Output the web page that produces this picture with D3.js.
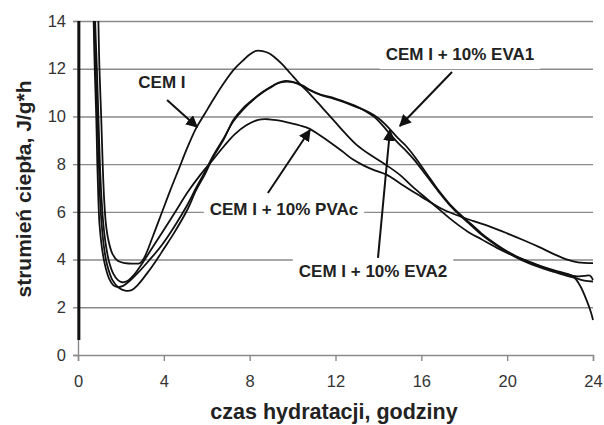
<!DOCTYPE html>
<html><head><meta charset="utf-8">
<script src="https://cdn.jsdelivr.net/npm/d3@7"></script>
<style>
body{margin:0;background:#fff;}
svg{display:block;font-family:"Liberation Sans",Arial,sans-serif;}
</style></head>
<body><svg id="c" width="604" height="425"></svg>
<script>
// ---- data (time in hours, heat flow J/g*h) ----
const xTicks = [0,4,8,12,16,20,24];
const yTicks = [0,2,4,6,8,10,12,14];

const cemI = [[0.93,15.5],[0.95,14],[1.0,12],[1.08,10],[1.15,8],[1.22,6.5],[1.3,5.5],[1.42,4.8],[1.6,4.25],[1.85,3.95],[2.2,3.85],[2.6,3.83],[2.9,3.86],[3.1,4.1],[3.5,5.0],[3.9,5.95],[4.3,6.9],[4.7,7.8],[5.1,8.7],[5.5,9.5],[5.9,10.1],[6.3,10.7],[6.8,11.4],[7.3,12.0],[7.7,12.35],[8.0,12.6],[8.3,12.75],[8.6,12.74],[8.9,12.65],[9.2,12.45],[9.5,12.2],[9.9,11.8],[10.3,11.4],[10.8,10.95],[11.4,10.35],[12.0,9.75],[12.5,9.25],[13.0,8.8],[13.6,8.4],[14.3,8.0],[15.0,7.55],[15.6,7.05],[16.25,6.55],[16.9,6.05],[17.5,5.6],[18.2,5.15],[18.8,4.85],[19.5,4.5],[20.2,4.2],[20.8,3.98],[21.5,3.75],[22.2,3.55],[22.8,3.4],[23.1,3.28],[23.4,2.9],[23.7,2.3],[23.9,1.8],[24.0,1.47]];

const pvac = [[0.78,15.5],[0.8,14],[0.88,12],[0.95,10],[1.02,8],[1.1,6.5],[1.18,5.5],[1.3,4.6],[1.45,3.9],[1.65,3.4],[1.85,3.15],[2.05,3.05],[2.3,3.1],[2.6,3.35],[3.0,3.85],[3.5,4.55],[3.9,5.1],[4.5,5.95],[5.13,6.85],[5.7,7.55],[6.3,8.2],[6.8,8.75],[7.3,9.25],[7.86,9.64],[8.4,9.86],[8.9,9.88],[9.4,9.82],[9.9,9.72],[10.35,9.62],[10.8,9.48],[11.2,9.25],[11.74,8.92],[12.3,8.55],[12.8,8.2],[13.3,7.95],[13.8,7.75],[14.4,7.55],[15.0,7.2],[15.6,6.85],[16.25,6.5],[16.9,6.15],[17.6,5.88],[18.4,5.62],[19.2,5.38],[20.0,5.1],[20.8,4.8],[21.5,4.52],[22.2,4.22],[22.8,4.0],[23.3,3.88],[24.0,3.85]];

const eva1 = [[0.72,15.5],[0.73,14],[0.78,12],[0.85,10],[0.9,8],[0.95,6.5],[1.0,5.5],[1.1,4.6],[1.25,3.8],[1.45,3.2],[1.65,2.92],[1.85,2.85],[2.1,2.9],[2.4,3.1],[2.8,3.45],[3.3,3.95],[3.9,4.6],[4.5,5.4],[5.1,6.3],[5.5,7.0],[5.9,7.65],[6.3,8.35],[6.8,9.1],[7.24,9.8],[7.7,10.3],[8.17,10.7],[8.6,11.0],[8.95,11.2],[9.3,11.38],[9.6,11.45],[9.9,11.45],[10.2,11.38],[10.5,11.25],[10.8,11.1],[11.3,10.9],[11.9,10.75],[12.4,10.6],[12.9,10.42],[13.4,10.25],[13.8,10.05],[14.1,9.85],[14.5,9.5],[14.9,9.1],[15.3,8.75],[15.7,8.3],[16.25,7.6],[16.8,6.9],[17.3,6.35],[17.8,5.9],[18.3,5.5],[18.8,5.1],[19.2,4.82],[19.8,4.45],[20.4,4.15],[21.0,3.92],[21.6,3.7],[22.2,3.52],[22.8,3.38],[23.2,3.3],[23.6,3.32],[23.85,3.33],[24.0,3.15]];

const eva2 = [[0.75,15.5],[0.76,14],[0.82,12],[0.9,10],[0.97,8],[1.03,6.5],[1.1,5.5],[1.2,4.6],[1.35,3.8],[1.6,3.15],[1.9,2.82],[2.2,2.7],[2.5,2.72],[2.8,2.95],[3.2,3.4],[3.6,3.9],[4.0,4.45],[4.5,5.15],[5.1,6.1],[5.5,6.9],[5.9,7.55],[6.3,8.3],[6.8,9.05],[7.24,9.85],[7.7,10.35],[8.17,10.72],[8.6,11.02],[8.95,11.22],[9.3,11.4],[9.6,11.48],[9.9,11.47],[10.2,11.4],[10.5,11.28],[10.8,11.12],[11.3,10.92],[11.9,10.78],[12.4,10.62],[12.9,10.45],[13.4,10.22],[13.8,9.98],[14.1,9.72],[14.5,9.3],[14.9,8.9],[15.3,8.55],[15.7,8.15],[16.25,7.5],[16.8,6.85],[17.3,6.3],[17.8,5.85],[18.3,5.45],[18.8,5.05],[19.2,4.78],[19.8,4.42],[20.4,4.1],[21.0,3.85],[21.6,3.65],[22.2,3.48],[22.8,3.32],[23.2,3.22],[23.6,3.12],[24.0,3.08]];

const startSpike = [[0.04,14.5],[0.04,0.63]];

const seriesList = [cemI, pvac, eva1, eva2];

// annotation labels: text, label centre (t, v baseline), arrow from, arrow to
const labelTexts = ["CEM I","CEM I + 10% EVA1","CEM I + 10% PVAc","CEM I + 10% EVA2"];
const labelPos   = [[3.91,11.19],[17.8,12.36],[9.6,5.87],[13.75,3.27]];
const arrowFrom  = [[4.15,10.69],[17.43,11.86],[8.85,6.79],[13.98,4.07]];
const arrowTo    = [[5.55,9.56],[15.0,9.6],[10.81,9.43],[14.54,9.43]];

// ---- drawing ----
const svg = d3.select("#c");
const x = d3.scaleLinear().domain([0,24]).range([78,593]);
const y = d3.scaleLinear().domain([0,14]).range([355,21]);

svg.append("defs").append("clipPath").attr("id","clip")
  .append("rect").attr("x",x(0)-3).attr("y",y(14)).attr("width",x(24)-x(0)+6).attr("height",y(0)-y(14));
svg.select("defs").append("marker").attr("id","ah")
  .attr("viewBox","0 0 10 10").attr("refX",9).attr("refY",5)
  .attr("markerWidth",6).attr("markerHeight",6).attr("markerUnits","strokeWidth")
  .attr("orient","auto")
  .append("path").attr("d","M0,0 L10,5 L0,10 z").attr("fill","#111");

// gridlines
const grid = svg.append("g").attr("transform",`translate(${x(0)},0)`)
  .call(d3.axisLeft(y).tickValues(yTicks.filter(v=>v>0)).tickSize(-(x(24)-x(0))).tickFormat(""));
grid.select(".domain").remove();
grid.selectAll("line").attr("stroke","#8a8a8a").attr("stroke-width",1.4);

// y axis
const ya = svg.append("g").attr("transform",`translate(${x(0)},0)`)
  .call(d3.axisLeft(y).tickValues(yTicks).tickSize(5).tickPadding(7));
ya.select(".domain").attr("stroke","#8a8a8a").attr("stroke-width",1.4);
ya.selectAll("line").attr("stroke","#8a8a8a").attr("stroke-width",1.4);
ya.selectAll("text").attr("font-size",16.5).attr("fill","#333").attr("font-family","Liberation Sans, Arial");

// x axis
const xa = svg.append("g").attr("transform",`translate(0,${y(0)})`)
  .call(d3.axisBottom(x).tickValues(xTicks).tickSize(6).tickPadding(14));
xa.select(".domain").attr("stroke","#8a8a8a").attr("stroke-width",1.4);
xa.selectAll("line").attr("stroke","#8a8a8a").attr("stroke-width",1.4);
xa.selectAll("text").attr("font-size",16.5).attr("fill","#333").attr("font-family","Liberation Sans, Arial");

// axis titles
svg.append("text").attr("transform",`translate(31,${(y(0)+y(14))/2+1}) rotate(-90)`)
  .attr("text-anchor","middle").attr("font-size",21).attr("font-weight","bold").attr("fill","#222")
  .text("strumień ciepła, J/g*h");
svg.append("text").attr("x",334).attr("y",419)
  .attr("text-anchor","middle").attr("font-size",21.5).attr("font-weight","bold").attr("fill","#222")
  .text("czas hydratacji, godziny");

// curves
const line = d3.line().x(d=>x(d[0])).y(d=>y(d[1])).curve(d3.curveCatmullRom.alpha(0.5));
const plot = svg.append("g").attr("clip-path","url(#clip)");
plot.selectAll("path.s").data(seriesList).join("path").attr("class","s")
  .attr("d",line).attr("fill","none").attr("stroke","#111").attr("stroke-width",1.8)
  .attr("stroke-linejoin","round");
plot.append("path").attr("d",d3.line().x(d=>x(d[0])).y(d=>y(d[1]))(startSpike))
  .attr("fill","none").attr("stroke","#111").attr("stroke-width",3);

// labels with white boxes
const lg = svg.append("g");
labelTexts.forEach((t,i)=>{
  const g = lg.append("g");
  const txt = g.append("text").attr("x",x(labelPos[i][0])).attr("y",y(labelPos[i][1]))
    .attr("text-anchor","middle").attr("font-size",17).attr("font-weight","bold").attr("fill","#222")
    .text(t);
  const bb = txt.node().getBBox();
  if(i>0){
    g.insert("rect","text").attr("x",bb.x-6).attr("y",bb.y-3).attr("width",bb.width+12).attr("height",bb.height+8)
      .attr("fill","#fff");
  }
});
// arrows
lg.selectAll("line.a").data(arrowFrom).join("line").attr("class","a")
  .attr("x1",d=>x(d[0])).attr("y1",d=>y(d[1]))
  .attr("x2",(d,i)=>x(arrowTo[i][0])).attr("y2",(d,i)=>y(arrowTo[i][1]))
  .attr("stroke","#111").attr("stroke-width",2).attr("marker-end","url(#ah)");
</script></body></html>
